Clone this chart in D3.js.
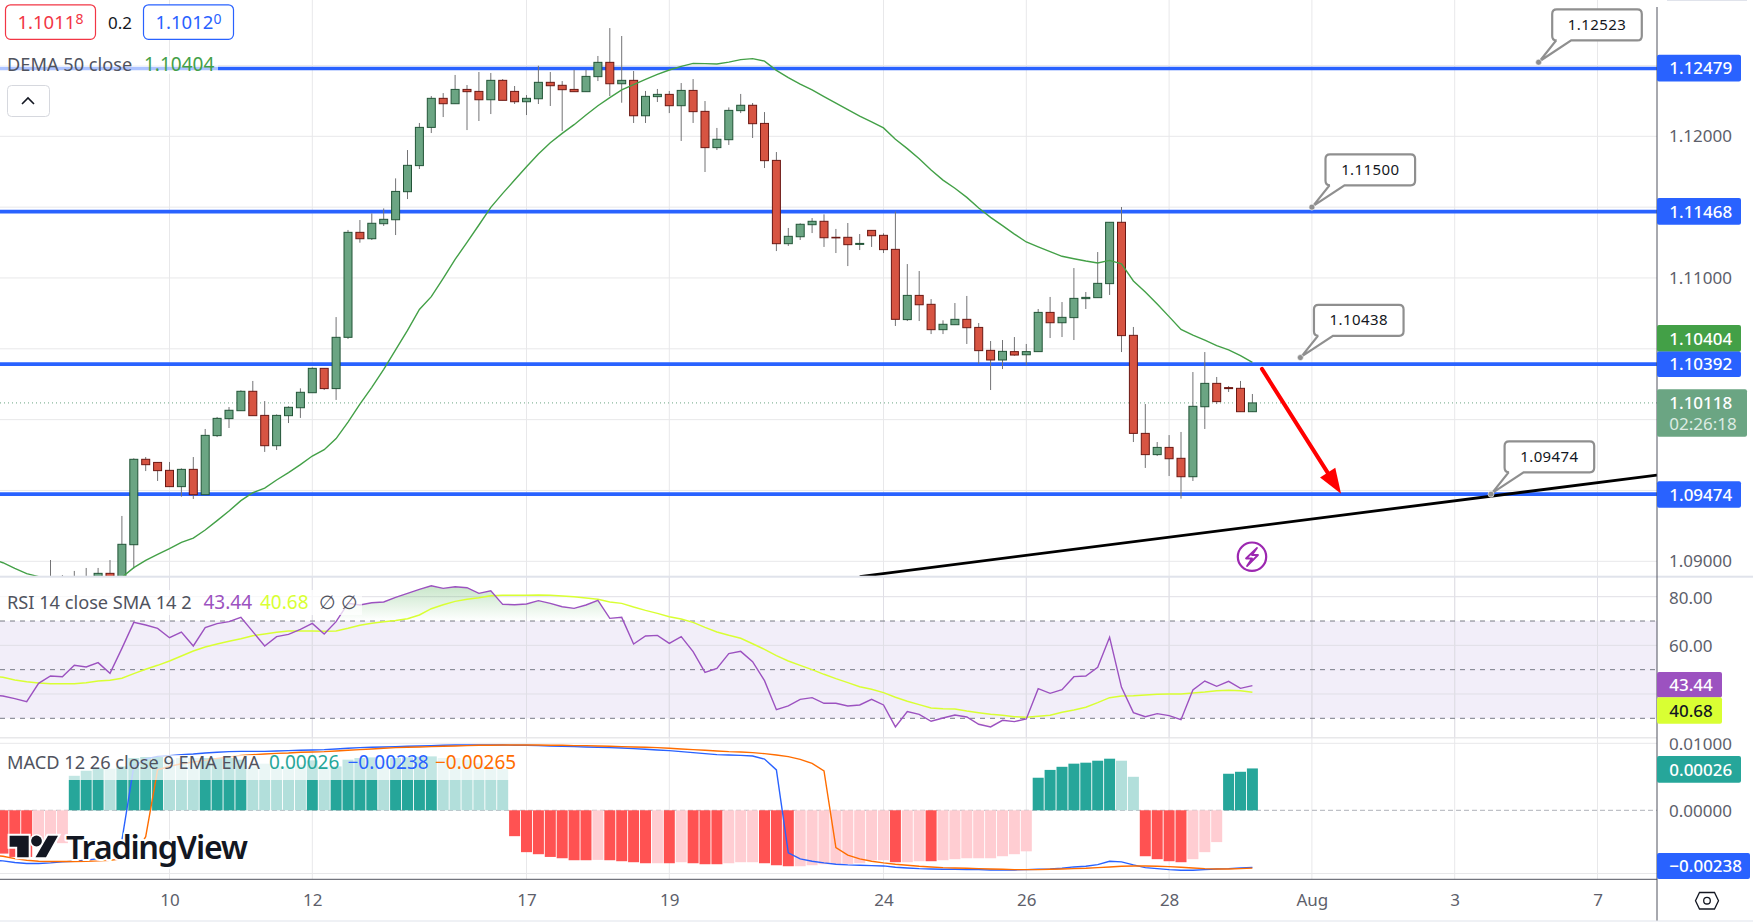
<!DOCTYPE html>
<html><head><meta charset="utf-8">
<script src="https://cdn.jsdelivr.net/npm/d3@7/dist/d3.min.js"></script>
<style>
html,body{margin:0;padding:0;background:#fff;overflow:hidden}
svg{display:block}
text{font-family:"Noto Sans","Open Sans",sans-serif}
</style></head><body>
<svg id="c" width="1753" height="923"></svg>
<script>
// ---- data, bar index 0 is the first visible candle ----
const open=[1.08844,1.08868,1.08844,1.08868,1.08856,1.08915,1.08856,1.09117,1.09720,1.09698,1.09642,1.09527,1.09649,1.09470,1.09887,1.10007,1.10063,1.10200,1.10030,1.09816,1.10028,1.10084,1.10190,1.10362,1.10219,1.10581,1.11322,1.11277,1.11383,1.11411,1.11609,1.11793,1.12063,1.12268,1.12230,1.12331,1.12317,1.12258,1.12395,1.12317,1.12244,1.12265,1.12381,1.12360,1.12331,1.12315,1.12421,1.12522,1.12371,1.12395,1.12145,1.12280,1.12296,1.12216,1.12324,1.12176,1.11920,1.11976,1.12181,1.12219,1.12091,1.11830,1.11242,1.11291,1.11376,1.11400,1.11287,1.11287,1.11237,1.11336,1.11301,1.11202,1.10706,1.10877,1.10814,1.10635,1.10670,1.10708,1.10651,1.10489,1.10421,1.10480,1.10458,1.10480,1.10757,1.10684,1.10720,1.10854,1.10861,1.10960,1.11393,1.10595,1.09903,1.09753,1.09804,1.09727,1.09597,1.10091,1.10256,1.10226,1.10221,1.10056];
const close=[1.08880,1.08833,1.08880,1.08821,1.08915,1.08868,1.09120,1.09720,1.09682,1.09640,1.09527,1.09649,1.09470,1.09889,1.10009,1.10066,1.10200,1.10028,1.09816,1.10030,1.10087,1.10193,1.10362,1.10219,1.10581,1.11322,1.11277,1.11386,1.11414,1.11611,1.11795,1.12063,1.12268,1.12230,1.12331,1.12315,1.12258,1.12395,1.12254,1.12244,1.12268,1.12381,1.12357,1.12329,1.12315,1.12423,1.12522,1.12371,1.12395,1.12145,1.12282,1.12296,1.12216,1.12324,1.12174,1.11920,1.11979,1.12183,1.12219,1.12089,1.11828,1.11242,1.11294,1.11379,1.11400,1.11284,1.11284,1.11235,1.11244,1.11298,1.11200,1.10708,1.10877,1.10811,1.10635,1.10673,1.10708,1.10649,1.10487,1.10421,1.10482,1.10456,1.10480,1.10757,1.10684,1.10722,1.10856,1.10863,1.10962,1.11393,1.10593,1.09903,1.09753,1.09804,1.09724,1.09597,1.10094,1.10256,1.10127,1.10219,1.10056,1.10118];
const high=[1.09009,1.08903,1.08932,1.08953,1.08953,1.09009,1.09320,1.09727,1.09736,1.09698,1.09701,1.09656,1.09736,1.09934,1.10019,1.10089,1.10207,1.10273,1.10131,1.10037,1.10094,1.10221,1.10369,1.10362,1.10724,1.11339,1.11409,1.11456,1.11491,1.11703,1.11903,1.12094,1.12284,1.12305,1.12433,1.12362,1.12454,1.12447,1.12404,1.12355,1.12291,1.12498,1.12454,1.12390,1.12470,1.12470,1.12567,1.12764,1.12708,1.12461,1.12320,1.12334,1.12320,1.12376,1.12404,1.12249,1.12059,1.12204,1.12299,1.12235,1.12171,1.11889,1.11353,1.11386,1.11423,1.11449,1.11346,1.11388,1.11310,1.11336,1.11315,1.11468,1.11098,1.11049,1.10851,1.10701,1.10823,1.10873,1.10682,1.10555,1.10562,1.10583,1.10534,1.10781,1.10866,1.10830,1.11070,1.10901,1.11183,1.11393,1.11501,1.10654,1.10110,1.09842,1.09891,1.09913,1.10336,1.10477,1.10301,1.10237,1.10273,1.10181];
const low=[1.08809,1.08797,1.08821,1.08786,1.08833,1.08844,1.08821,1.08950,1.09637,1.09567,1.09527,1.09456,1.09440,1.09470,1.09877,1.09941,1.10063,1.10028,1.09772,1.09786,1.09976,1.10012,1.10190,1.10209,1.10139,1.10569,1.11249,1.11268,1.11367,1.11303,1.11557,1.11769,1.12023,1.12136,1.12230,1.12044,1.12108,1.12157,1.12254,1.12228,1.12150,1.12228,1.12214,1.12037,1.12315,1.12315,1.12390,1.12284,1.12237,1.12094,1.12094,1.12242,1.12164,1.11967,1.12094,1.11748,1.11903,1.11939,1.12164,1.11988,1.11776,1.11190,1.11226,1.11268,1.11317,1.11219,1.11176,1.11084,1.11197,1.11219,1.11176,1.10661,1.10696,1.10696,1.10604,1.10604,1.10670,1.10534,1.10393,1.10209,1.10357,1.10451,1.10386,1.10480,1.10576,1.10583,1.10562,1.10781,1.10861,1.10880,1.10477,1.09842,1.09659,1.09743,1.09602,1.09442,1.09567,1.09934,1.10110,1.10195,1.10056,1.10056];
// the indicator series start five bars earlier, at index -5 (just off the left edge)
const firstIndicatorBar=-5;
const dema=[1.09015,1.08990,1.08950,1.08913,1.08892,1.08873,1.08863,1.08856,1.08856,1.08863,1.08873,1.08887,1.08955,1.09007,1.09049,1.09089,1.09134,1.09164,1.09221,1.09287,1.09355,1.09428,1.09484,1.09517,1.09574,1.09626,1.09682,1.09743,1.09788,1.09866,1.09983,1.10110,1.10228,1.10355,1.10492,1.10630,1.10778,1.10868,1.10997,1.11131,1.11251,1.11374,1.11498,1.11597,1.11691,1.11785,1.11875,1.11955,1.12021,1.12082,1.12150,1.12216,1.12273,1.12327,1.12364,1.12402,1.12437,1.12468,1.12494,1.12515,1.12513,1.12510,1.12524,1.12541,1.12548,1.12531,1.12465,1.12414,1.12369,1.12327,1.12280,1.12235,1.12188,1.12143,1.12101,1.12059,1.11979,1.11913,1.11842,1.11762,1.11691,1.11633,1.11569,1.11494,1.11428,1.11369,1.11310,1.11254,1.11219,1.11186,1.11153,1.11136,1.11120,1.11106,1.11124,1.11099,1.10979,1.10901,1.10816,1.10727,1.10637,1.10597,1.10562,1.10522,1.10492,1.10452,1.10404];
const rsi=[39.60,39.18,38.08,36.85,44.38,47.40,47.12,51.78,51.10,52.88,48.49,58.77,69.45,68.36,66.99,63.15,65.48,59.73,67.26,68.91,69.73,71.51,65.62,59.73,63.56,64.52,66.58,69.04,64.66,69.73,77.26,76.58,77.53,77.81,79.73,81.37,83.01,84.52,83.42,84.11,83.70,81.37,82.47,76.85,76.71,76.99,78.36,77.26,75.89,75.21,76.58,78.49,71.10,71.51,60.55,63.84,64.11,60.82,63.56,57.40,48.90,50.55,56.58,57.53,53.29,45.48,33.56,35.07,37.81,38.49,36.17,36.17,35.07,35.48,37.81,35.48,26.44,32.74,31.64,28.77,30.14,31.37,30.55,27.53,26.44,29.18,28.63,29.73,42.19,40.27,41.78,47.12,47.40,50.96,63.29,42.74,32.33,30.67,31.92,31.10,29.45,41.64,45.34,43.15,45.21,42.33,43.44];
const rsiMa=[47.30,46.85,45.75,45.07,44.52,44.25,44.25,44.25,44.66,45.34,45.62,46.44,48.36,50.14,51.78,53.56,55.62,57.67,59.32,60.55,61.64,62.74,63.97,64.66,65.34,65.89,65.89,65.89,65.75,65.89,66.99,68.22,69.04,69.73,70.26,70.96,72.47,75.07,76.71,78.08,78.91,79.59,80.41,80.55,80.55,80.55,80.69,80.55,80.27,80.00,79.45,78.91,77.81,77.26,75.75,74.38,73.15,71.78,70.82,69.45,67.40,65.48,64.11,62.88,60.67,58.36,55.75,53.56,51.78,50.00,48.08,46.30,44.66,43.01,41.92,40.55,38.63,36.99,35.62,34.25,33.97,33.84,33.01,32.33,31.64,31.23,30.68,30.41,30.82,31.23,32.47,33.42,34.52,36.44,38.49,39.18,39.32,39.59,39.86,40.00,40.00,40.41,40.82,41.37,41.51,41.37,40.68];
const macd=[-0.00085,-0.000925,-0.00117,-0.00136,-0.00136,-0.00123,-0.00107,-0.00097,-0.00084,-0.00066,-0.000405,-0.000045,0.00035,0.00102,0.00151,0.00166,0.00192,0.00212,0.00245,0.0027,0.00297,0.00312,0.00312,0.00312,0.00328,0.00344,0.00361,0.00379,0.00398,0.00439,0.00484,0.00533,0.0056,0.00587,0.00617,0.00647,0.0068,0.00713,0.00749,0.00786,0.00786,0.00786,0.00786,0.00786,0.00749,0.00749,0.00713,0.0068,0.00647,0.00617,0.00587,0.0056,0.00533,0.00508,0.00461,0.00418,0.00379,0.00344,0.00297,0.00257,0.00222,0.00192,0.00183,0.00174,0.00158,0.00102,0.00021,-0.000288,-0.00069,-0.00097,-0.00123,-0.0015,-0.00166,-0.00174,-0.00183,-0.00192,-0.00233,-0.00257,-0.00283,-0.00297,-0.00312,-0.00312,-0.00328,-0.00328,-0.00344,-0.00344,-0.00344,-0.00328,-0.00312,-0.00297,-0.0027,-0.00222,-0.00201,-0.00158,-0.00097,-0.00107,-0.00166,-0.00245,-0.00283,-0.00328,-0.00361,-0.00361,-0.00328,-0.00297,-0.00283,-0.00257,-0.00238];
const macdSignal=[-0.0004,-0.00047,-0.00066,-0.00084,-0.00097,-0.00102,-0.00102,-0.00102,-0.00097,-0.000925,-0.00084,-0.00069,-0.00047,-0.000027,0.00021,0.00035,0.00051,0.00066,0.00084,0.00113,0.00137,0.00174,0.00192,0.00212,0.00233,0.00245,0.0027,0.00283,0.00297,0.00328,0.00361,0.00398,0.00439,0.00484,0.00533,0.0056,0.00587,0.00617,0.00647,0.0068,0.00713,0.00749,0.00749,0.00786,0.00786,0.00786,0.00786,0.00749,0.00749,0.00713,0.00713,0.0068,0.00647,0.00617,0.00587,0.0056,0.00533,0.00484,0.00439,0.00398,0.00361,0.00328,0.00297,0.00283,0.00257,0.00222,0.00183,0.00144,0.00097,0.00054,0.00018,-0.000132,-0.000405,-0.00069,-0.00097,-0.00123,-0.0015,-0.00174,-0.00201,-0.00222,-0.00245,-0.00257,-0.0027,-0.00283,-0.00297,-0.00312,-0.00328,-0.00328,-0.00328,-0.00312,-0.00297,-0.00283,-0.0027,-0.00245,-0.00222,-0.00201,-0.00192,-0.00192,-0.00201,-0.00211,-0.00233,-0.00257,-0.00283,-0.00297,-0.00297,-0.00283,-0.00265];
const macdHist=[-0.0003,-0.00032,-0.00052,-0.00052,-0.000094,-0.000081,-0.00007,0.000089,0.000186,0.00026,0.00025,0.00035,0.00118,0.00137,0.00137,0.00093,0.00118,0.00118,0.00118,0.00118,0.00118,0.00093,0.00035,0.00052,0.00035,0.00035,0.00045,0.00084,0.00035,0.00035,0.00093,0.00118,0.0013,0.00093,0.00118,0.0013,0.00143,0.0015,0.00118,0.00118,0.00093,0.00057,0.00035,0.00024,-0.000025,-0.00026,-0.00035,-0.00052,-0.00063,-0.00084,-0.00084,-0.0008,-0.00084,-0.00097,-0.00112,-0.0013,-0.0013,-0.0013,-0.00112,-0.0013,-0.0015,-0.0015,-0.0013,-0.00112,-0.00112,-0.0013,-0.00174,-0.00201,-0.00201,-0.00174,-0.0015,-0.00143,-0.00143,-0.0013,-0.00084,-0.00084,-0.00112,-0.00112,-0.00097,-0.00097,-0.00084,-0.00072,-0.00063,-0.00063,-0.00063,-0.00047,-0.00035,-0.00023,0.000067,0.00021,0.00033,0.00052,0.0006,0.0008,0.00107,0.0008,0.000077,-0.00047,-0.00072,-0.00097,-0.00112,-0.00072,-0.00026,-0.00006,0.00012,0.00016,0.00026];
const histStrongBars=[-5,-4,-3,-2,2,3,4,6,7,8,9,13,14,15,16,22,24,25,26,27,29,30,31,32,39,40,41,42,43,44,45,47,48,49,50,52,54,55,56,60,61,62,71,74,83,84,85,86,87,88,89,92,93,94,95,99,100,101];
const levels=[1.12479,1.11468,1.10392,1.09474];
const levelLabels=["1.12479","1.11468","1.10392","1.09474"];
const calloutBars=[125.05,106,105.03,121.05];
const calloutPrices=[1.12523,1.115,1.10438,1.09474];
const calloutLabels=["1.12523","1.11500","1.10438","1.09474"];
const trendBars=[68,135];
const trendPrices=[1.08892,1.09609];
const arrowBars=[101.8,108.45];
const arrowPrices=[1.10358,1.09477];
const lastPrice=1.10118;
const timeTickBars=[10,22,40,52,70,82,94,106,118,130];
const timeTickLabels=["10","12","17","19","24","26","28","Aug","3","7"];
const priceTicks=[1.12,1.11,1.09];
const priceGrid=[1.125,1.12,1.115,1.11,1.105,1.10,1.095,1.09];
const rsiGrid=[80,60,40];
const rsiTicks=[80,60];
const rsiDashed=[70,50,30];
const macdTicks=[0.01,0];

// ---- layout ----
const W=1753,H=923,AX=1657,MAIN_B=576.7,RSI_B=737.7,MACD_T=743.3,MACD_B=879.3;
const C={grid:"#e8e8ea",blue:"#2962ff",up:"#6ba583",dn:"#d75442",upB:"#225437",dnB:"#6b1813",wick:"#737375",
 dema:"#43a047",rsi:"#9c52c0",ma:"#d9ff33",text:"#5d606b",teal:"#26a69a",tealL:"#b2dfdb",red:"#ff5252",redL:"#ffcdd2",orange:"#ff6d00",sep:"#e0e3eb"};

const x=d3.scaleLinear().domain([10,130]).range([169.5,1597.5]);
const y=d3.scaleLinear().domain([1.12,1.09]).range([136.3,561.3]);
const yR=d3.scaleLinear().domain([80,30]).range([596.7,718.3]);
const yM=d3.scaleSymlog().constant(6e-7).domain([0,0.01]).range([810.3,743.3]);

const svg=d3.select("#c");
const defs=svg.append("defs");
function clip(id,a,b,c,d){defs.append("clipPath").attr("id",id).append("rect").attr("x",a).attr("y",b).attr("width",c-a).attr("height",d-b);}
clip("cMain",0,0,AX,MAIN_B);clip("cRsi",0,MAIN_B,AX,RSI_B);clip("cMacd",0,MACD_T-6,AX,MACD_B);
clip("cAbove",0,MAIN_B,AX,yR(70));clip("cBelow",0,yR(30),AX,RSI_B);clip("cMacdAx",AX,RSI_B+0.5,W,MACD_B);
const g1=defs.append("linearGradient").attr("id","ob").attr("gradientUnits","userSpaceOnUse").attr("x1",0).attr("x2",0).attr("y1",yR(85)).attr("y2",yR(70));
g1.append("stop").attr("offset",0).attr("stop-color","#4caf50").attr("stop-opacity",.32);
g1.append("stop").attr("offset",1).attr("stop-color","#4caf50").attr("stop-opacity",0);
const g2=defs.append("linearGradient").attr("id","os").attr("gradientUnits","userSpaceOnUse").attr("x1",0).attr("x2",0).attr("y1",yR(30)).attr("y2",yR(25));
g2.append("stop").attr("offset",0).attr("stop-color","#ef5350").attr("stop-opacity",0);
g2.append("stop").attr("offset",1).attr("stop-color","#ef5350").attr("stop-opacity",.12);

svg.append("rect").attr("width",W).attr("height",H).attr("fill","#fff");

// ---- grid ----
const grid=svg.append("g").attr("stroke",C.grid).attr("stroke-width",1);
timeTickBars.forEach(t=>grid.append("line").attr("x1",x(t)).attr("x2",x(t)).attr("y1",0).attr("y2",MACD_B));
priceGrid.forEach(p=>grid.append("line").attr("x1",0).attr("x2",AX).attr("y1",y(p)).attr("y2",y(p)));

// ---- main pane ----
const main=svg.append("g").attr("clip-path","url(#cMain)");
main.selectAll(".lvl").data(levels).join("line").attr("x1",0).attr("x2",AX).attr("y1",d=>y(d)).attr("y2",d=>y(d)).attr("stroke",C.blue).attr("stroke-width",3.6);
main.append("line").attr("x1",0).attr("x2",AX).attr("y1",y(lastPrice)).attr("y2",y(lastPrice)).attr("stroke",C.up).attr("stroke-width",1).attr("stroke-dasharray","1 3");
const bars=open.map((o,i)=>({i,o,c:close[i],h:high[i],l:low[i]}));
const cg=main.selectAll(".cd").data(bars).join("g");
cg.append("line").attr("x1",d=>x(d.i)).attr("x2",d=>x(d.i)).attr("y1",d=>y(d.h)).attr("y2",d=>y(d.l)).attr("stroke",C.wick).attr("stroke-width",1);
cg.append("rect").attr("x",d=>x(d.i)-4).attr("width",8)
 .attr("y",d=>y(Math.max(d.o,d.c))).attr("height",d=>Math.max(0.6,Math.abs(y(d.o)-y(d.c))))
 .attr("fill",d=>d.c>=d.o?C.up:C.dn).attr("stroke",d=>d.c>=d.o?C.upB:C.dnB).attr("stroke-width",1);
const idx=(i,first)=>i+first;
main.append("path").attr("d",d3.line().x((d,i)=>x(idx(i,firstIndicatorBar))).y(d=>y(d))(dema)).attr("fill","none").attr("stroke",C.dema).attr("stroke-width",1.4);
main.append("line").attr("x1",x(trendBars[0])).attr("x2",x(trendBars[1])).attr("y1",y(trendPrices[0])).attr("y2",y(trendPrices[1])).attr("stroke","#000").attr("stroke-width",2.8);

// arrow
(function(){
 const x0=x(arrowBars[0]),y0=y(arrowPrices[0]),x1=x(arrowBars[1]),y1=y(arrowPrices[1]);
 const a=Math.atan2(y1-y0,x1-x0),L=25,W2=9;
 const bx=x1-L*Math.cos(a),by=y1-L*Math.sin(a);
 main.append("line").attr("x1",x0).attr("y1",y0).attr("x2",bx).attr("y2",by).attr("stroke","#ff0000").attr("stroke-width",4).attr("stroke-linecap","round");
 main.append("path").attr("fill","#ff0000").attr("d",`M${x1},${y1}L${bx-W2*Math.sin(a)},${by+W2*Math.cos(a)}L${bx+W2*Math.sin(a)},${by-W2*Math.cos(a)}Z`);
})();

// callouts
calloutBars.forEach((b,k)=>{
 const ax=x(b),ay=y(calloutPrices[k]),l=ax+13.6,t=ay-52.8,w=89.6,h=31,r=4.5,b1=l+4,b2=l+19;
 const d=`M${l+r},${t}H${l+w-r}Q${l+w},${t} ${l+w},${t+r}V${t+h-r}Q${l+w},${t+h} ${l+w-r},${t+h}H${b2}L${ax+1},${ay-1}L${b1},${t+h}H${l+r}Q${l},${t+h} ${l},${t+h-r}V${t+r}Q${l},${t} ${l+r},${t}Z`;
 svg.append("path").attr("d",d).attr("fill","#fff").attr("stroke","#8f8f8f").attr("stroke-width",2.2);
 svg.append("circle").attr("cx",ax).attr("cy",ay).attr("r",3).attr("fill","#8f8f8f").attr("stroke","#fff").attr("stroke-width",.6);
 svg.append("text").attr("x",l+w/2).attr("y",t+h/2+5.2).attr("text-anchor","middle").attr("font-size",15).attr("letter-spacing",.4).attr("fill","#131722").text(calloutLabels[k]);
});

// lightning icon
svg.append("circle").attr("cx",1252).attr("cy",556.7).attr("r",14.2).attr("fill","#fff").attr("stroke","#9c27b0").attr("stroke-width",2.2);
svg.append("path").attr("d","M1257,548L1246,558.5H1252L1247,566L1258,555H1252Z").attr("fill","none").attr("stroke","#9c27b0").attr("stroke-width",1.8).attr("stroke-linejoin","round");

// ---- RSI pane ----
svg.append("rect").attr("x",0).attr("width",AX).attr("y",yR(70)).attr("height",yR(30)-yR(70)).attr("fill","#7e57c2").attr("fill-opacity",.1);
const rg=svg.append("g").attr("stroke","#e0dfe6").attr("stroke-width",1);
rsiGrid.forEach(v=>rg.append("line").attr("x1",0).attr("x2",AX).attr("y1",yR(v)).attr("y2",yR(v)));
rg.append("line").attr("x1",0).attr("x2",AX).attr("y1",RSI_B).attr("y2",RSI_B).attr("stroke",C.grid).attr("stroke-width",1.5);
timeTickBars.forEach(t=>rg.append("line").attr("x1",x(t)).attr("x2",x(t)).attr("y1",MAIN_B).attr("y2",RSI_B));
const rsiP=svg.append("g").attr("clip-path","url(#cRsi)");
rsiP.selectAll(".d").data(rsiDashed).join("line").attr("x1",0).attr("x2",AX).attr("y1",d=>yR(d)).attr("y2",d=>yR(d)).attr("stroke","#787b86").attr("stroke-width",1).attr("stroke-dasharray","5 5");
const rsiLine=d3.line().x((d,i)=>x(idx(i,firstIndicatorBar))).y(d=>yR(d));
rsiP.append("path").attr("clip-path","url(#cAbove)").attr("fill","url(#ob)")
 .attr("d",d3.area().x((d,i)=>x(idx(i,firstIndicatorBar))).y0(yR(70)).y1(d=>yR(d))(rsi));
rsiP.append("path").attr("clip-path","url(#cBelow)").attr("fill","url(#os)")
 .attr("d",d3.area().x((d,i)=>x(idx(i,firstIndicatorBar))).y0(yR(30)).y1(d=>yR(d))(rsi));
rsiP.append("path").attr("d",rsiLine(rsiMa)).attr("fill","none").attr("stroke",C.ma).attr("stroke-width",1.5);
rsiP.append("path").attr("d",rsiLine(rsi)).attr("fill","none").attr("stroke",C.rsi).attr("stroke-width",1.4);

// ---- MACD pane ----
svg.append("line").attr("x1",0).attr("x2",AX).attr("y1",MACD_T).attr("y2",MACD_T).attr("stroke",C.grid).attr("stroke-width",1);
svg.append("line").attr("x1",0).attr("x2",AX).attr("y1",873.5).attr("y2",873.5).attr("stroke",C.grid).attr("stroke-width",1);
const mp=svg.append("g").attr("clip-path","url(#cMacd)");
mp.append("line").attr("x1",0).attr("x2",AX).attr("y1",yM(0)).attr("y2",yM(0)).attr("stroke","#b0b2ba").attr("stroke-width",1).attr("stroke-dasharray","5 3");
const strong=new Set(histStrongBars);
mp.selectAll(".h").data(macdHist).join("rect")
 .attr("x",(d,i)=>x(idx(i,firstIndicatorBar))-5.5).attr("width",11)
 .attr("y",d=>Math.min(yM(0),yM(d))).attr("height",d=>Math.abs(yM(d)-yM(0)))
 .attr("fill",(d,i)=>{const s=strong.has(idx(i,firstIndicatorBar));return d>=0?(s?C.teal:C.tealL):(s?C.red:C.redL);});
const mLine=d3.line().x((d,i)=>x(idx(i,firstIndicatorBar))).y(d=>yM(d));
mp.append("path").attr("d",mLine(macd)).attr("fill","none").attr("stroke",C.blue).attr("stroke-width",1.4);
mp.append("path").attr("d",mLine(macdSignal)).attr("fill","none").attr("stroke",C.orange).attr("stroke-width",1.4);

// ---- separators and axis rules ----
svg.append("rect").attr("x",0).attr("width",W).attr("y",MAIN_B-1).attr("height",2).attr("fill",C.sep);
svg.append("line").attr("x1",0).attr("x2",W-96).attr("y1",MACD_B).attr("y2",MACD_B).attr("stroke","#50535e").attr("stroke-width",1);
svg.append("line").attr("x1",AX).attr("x2",AX).attr("y1",7).attr("y2",921).attr("stroke","#50535e").attr("stroke-width",1);
svg.append("line").attr("x1",0).attr("x2",W).attr("y1",921).attr("y2",921).attr("stroke",C.sep).attr("stroke-width",1.2);
svg.append("rect").attr("x",1667).attr("y",0).attr("width",80).attr("height",1).attr("fill",C.sep);

// ---- axes ----
function styleAxis(g){g.select(".domain").remove();g.selectAll(".tick line").remove();g.selectAll("text").attr("font-size",17).attr("fill",C.text).attr("font-family",'"Noto Sans"');}
svg.append("g").attr("transform",`translate(${AX},0)`).call(d3.axisRight(y).tickValues(priceTicks).tickSize(0).tickPadding(12).tickFormat(d3.format(".5f"))).call(styleAxis);
svg.append("g").attr("transform",`translate(${AX},1)`).call(d3.axisRight(yR).tickValues(rsiTicks).tickSize(0).tickPadding(12).tickFormat(d3.format(".2f"))).call(styleAxis);
svg.append("g").attr("clip-path","url(#cMacdAx)").append("g").attr("transform",`translate(${AX},1)`).call(d3.axisRight(yM).tickValues(macdTicks).tickSize(0).tickPadding(12).tickFormat(d3.format(".5f"))).call(styleAxis);
svg.append("g").attr("transform",`translate(0,${MACD_B})`).call(d3.axisBottom(x).tickValues(timeTickBars).tickSize(0).tickPadding(15).tickFormat((d,i)=>timeTickLabels[i])).call(styleAxis);

// ---- price tags ----
function tag(cy,h,w,fill,txt,col,r){
 svg.append("rect").attr("x",AX).attr("y",cy-h/2).attr("width",w).attr("height",h).attr("rx",2).attr("fill",fill);
 svg.append("text").attr("x",AX+12.3).attr("y",cy+6.2).attr("font-size",17).attr("font-weight",500).attr("fill",col).text(txt);
}
tag(y(levels[0])-0.4,26.7,84,C.blue,levelLabels[0],"#fff");
tag(y(levels[1])-0.3,26.7,84,C.blue,levelLabels[1],"#fff");
tag(338.3,26.7,84,C.dema,"1.10404","#fff");
tag(364.2,25.4,84,C.blue,levelLabels[2],"#fff");
tag(494.5,26.7,84,C.blue,levelLabels[3],"#fff");
svg.append("rect").attr("x",AX).attr("y",389.3).attr("width",90).attr("height",47.4).attr("rx",2).attr("fill",C.up);
svg.append("text").attr("x",AX+12.3).attr("y",408.5).attr("font-size",17).attr("font-weight",500).attr("fill","#fff").text("1.10118");
svg.append("text").attr("x",AX+12.3).attr("y",429.5).attr("font-size",17).attr("fill","#dcebe2").text("02:26:18");
tag(684.7,25.4,65,C.rsi,"43.44","#fff");
tag(710.5,26.4,65,C.ma,"40.68","#131722");
tag(769.3,26.7,84,C.teal,"0.00026","#fff");
tag(866,26,93,C.blue,"\u22120.00238","#fff");

// ---- legends (translucent backing dims what runs underneath) ----
svg.append("rect").attr("x",0).attr("y",56).attr("width",218).attr("height",18).attr("fill","#fff").attr("fill-opacity",.62);
svg.append("rect").attr("x",0).attr("y",590).attr("width",362).attr("height",25).attr("fill","#fff").attr("fill-opacity",.72);
svg.append("rect").attr("x",0).attr("y",755).attr("width",513).attr("height",25).attr("fill","#fff").attr("fill-opacity",.72);
function txt(xp,yp,s,col,fs){return svg.append("text").attr("x",xp).attr("y",yp).attr("font-size",fs||18.2).attr("fill",col).text(s);}
const VF=19;
txt(7,70.5,"DEMA 50 close","#50535e");txt(144,70.5,"1.10404",C.dema,VF);
txt(7,608.5,"RSI 14 close SMA 14 2","#50535e");txt(203.5,608.5,"43.44",C.rsi,VF);txt(260,608.5,"40.68",C.ma,VF);txt(319,608.5,"\u2205","#50535e",VF);txt(341,608.5,"\u2205","#50535e",VF);
txt(7,768.5,"MACD 12 26 close 9 EMA EMA","#50535e");txt(269,768.5,"0.00026",C.teal,VF);txt(347.5,768.5,"\u22120.00238",C.blue,VF);txt(435,768.5,"\u22120.00265",C.orange,VF);

// ---- quote boxes ----
function qbox(a,w,col,main,sup){
 svg.append("rect").attr("x",a).attr("y",4.8).attr("width",w).attr("height",34.5).attr("rx",5).attr("fill","#fff").attr("stroke",col).attr("stroke-width",1.2);
 const t=svg.append("text").attr("x",a+12).attr("y",28.5).attr("font-size",18.5).attr("fill",col);
 t.append("tspan").text(main);
 t.append("tspan").attr("dy",-5).attr("font-size",14).text(sup);
}
qbox(5.5,90,"#f23645","1.1011","8");
qbox(143.5,90,C.blue,"1.1012","0");
txt(108,28.5,"0.2","#131722",17);
svg.append("rect").attr("x",7.5).attr("y",85.5).attr("width",42).attr("height",31).attr("rx",4).attr("fill","#fff").attr("stroke","#d6d8de");
svg.append("path").attr("d","M22,104L28,98L34,104").attr("fill","none").attr("stroke","#131722").attr("stroke-width",1.6);

// ---- logo ----
const lg=svg.append("g");
lg.append("text").attr("x",66).attr("y",859).attr("font-family","Inter").attr("font-weight",600).attr("font-size",32.5).attr("fill","#131722").attr("stroke","#fff").attr("stroke-width",4).attr("paint-order","stroke").attr("stroke-linejoin","round").attr("textLength",182).text("TradingView");
lg.append("path").attr("d","M9.6,835.7H28.7V857.3H17.2V846.7H9.6Z M48,835.7H58L46,857.3H35.5Z").attr("fill","#131722").attr("stroke","#fff").attr("stroke-width",4).attr("paint-order","stroke");
lg.append("circle").attr("cx",36.5).attr("cy",841).attr("r",5.4).attr("fill","#131722").attr("stroke","#fff").attr("stroke-width",3).attr("paint-order","stroke");

// ---- settings glyph ----
svg.append("path").attr("d","M1699.5,892.5H1714.5L1718.5,900.7L1714.5,909H1699.5L1695.5,900.7Z").attr("fill","none").attr("stroke","#131722").attr("stroke-width",1.3);
svg.append("circle").attr("cx",1707).attr("cy",900.7).attr("r",3.3).attr("fill","none").attr("stroke","#131722").attr("stroke-width",1.3);
</script>
</body></html>
